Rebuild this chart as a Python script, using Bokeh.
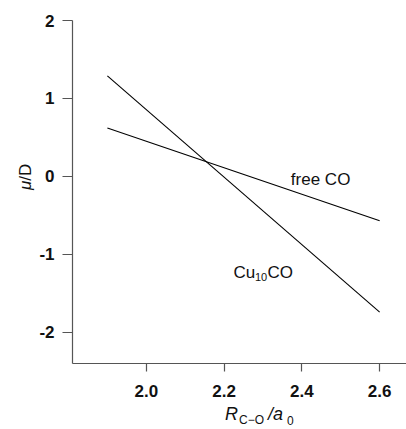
from bokeh.plotting import figure
from bokeh.models import FixedTicker, PrintfTickFormatter, Label, Range1d, Div
from bokeh.layouts import column, row
from bokeh.embed import file_html
from bokeh.resources import INLINE

# data
r_co = [1.9, 2.6]
mu_free_co = [0.62, -0.57]
mu_cu10co = [1.29, -1.74]
x_ticks = [2.0, 2.2, 2.4, 2.6]
y_ticks = [-2, -1, 0, 1, 2]

FONT = "Liberation Sans"
COL = "#111111"

W, H = 406, 429
YT_W = 36          # strip holding the y title
XT_H = 24          # strip holding the x title
MW, MH = W - YT_W, H - XT_H
L, R, T, B = 71 - YT_W, 0, 20, MH - 363
X0, X1 = 1.8103, 2.669
Y0, Y1 = -2.4, 2.0

p = figure(width=MW, height=MH, output_backend="svg", toolbar_location=None,
           title=None,
           x_range=Range1d(X0, X1), y_range=Range1d(Y0, Y1),
           min_border_left=L, min_border_right=R, min_border_top=T, min_border_bottom=B)
p.outline_line_color = None
p.xgrid.visible = False
p.ygrid.visible = False

for ax in (p.xaxis[0], p.yaxis[0]):
    ax.axis_line_color = "#555555"
    ax.axis_line_width = 1.2
    ax.major_tick_line_color = "#555555"
    ax.major_tick_line_width = 1.2
    ax.minor_tick_line_color = None
    ax.major_tick_in = 0
    ax.major_label_text_font = FONT
    ax.major_label_text_font_size = "17px"
    ax.major_label_text_font_style = "bold"
    ax.major_label_text_color = COL

p.xaxis[0].ticker = FixedTicker(ticks=x_ticks)
p.xaxis[0].formatter = PrintfTickFormatter(format="%.1f")
p.xaxis[0].major_tick_out = 8
p.xaxis[0].major_label_standoff = 13

p.yaxis[0].ticker = FixedTicker(ticks=y_ticks)
p.yaxis[0].formatter = PrintfTickFormatter(format="%d")
p.yaxis[0].major_tick_out = 10
p.yaxis[0].major_label_standoff = 8

p.line(r_co, mu_free_co, line_color="black", line_width=1.1)
p.line(r_co, mu_cu10co, line_color="black", line_width=1.1)

fw = MW - L - R
fh = MH - T - B
def dx(px):
    return X0 + (px - 71) / fw * (X1 - X0)
def dy(py):
    return Y1 - (py - T) / fh * (Y1 - Y0)

def lab(text, px, py, size, style="normal"):
    p.add_layout(Label(x=dx(px), y=dy(py), text=text, text_font=FONT,
                       text_font_size=f"{size}px", text_font_style=style,
                       text_color=COL, text_align="left",
                       text_baseline="alphabetic"))

# curve labels
lab("free CO", 290, 179, 17)
lab("Cu", 232.5, 272, 17)
lab("10", 254, 276, 11)
lab("CO", 266.5, 272, 17)

def span(text, left, top, size, italic=False, extra=""):
    st = "italic" if italic else "normal"
    return (f"<span style='position:absolute;left:{left}px;top:{top}px;"
            f"font-family:\"{FONT}\";font-size:{size}px;line-height:1;"
            f"font-style:{st};color:{COL};white-space:nowrap;{extra}'>{text}</span>")

# y title: mu/D, rotated, baseline at x=31.5, starting at y=190
ytxt = ("<div style='position:relative;width:%dpx;height:%dpx'>" % (YT_W, MH)
        + span("<i>\u03bc</i>/D", 17.1, 190, 17, False,
               "transform:rotate(-90deg);transform-origin:0 0;")
        + "</div>")
ydiv = Div(text=ytxt, width=YT_W, height=MH, margin=0)

# x title: R_{C-O}/a_0
xtxt = ("<div style='position:relative;width:%dpx;height:%dpx'>" % (W, XT_H)
        + span("R", 225, -0.2, 18, True)
        + span("C\u2212O", 239, 8.8, 12)
        + span("/a", 268, -0.2, 18, True)
        + span("0", 287, 9.8, 12)
        + "</div>")
xdiv = Div(text=xtxt, width=W, height=XT_H, margin=0)

layout = column(row(ydiv, p, spacing=0), xdiv, spacing=0)
open("out.html", "w").write(file_html(layout, INLINE))
